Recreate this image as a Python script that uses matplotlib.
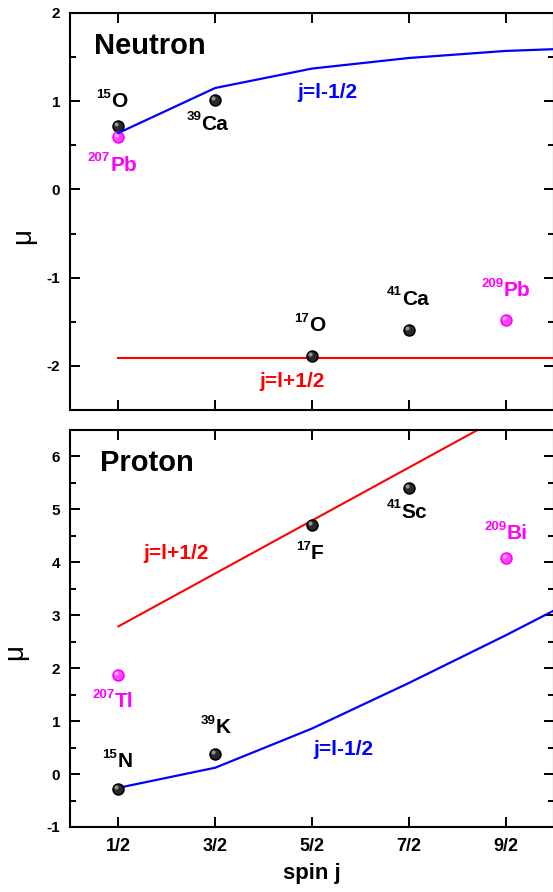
import matplotlib
matplotlib.use("Agg")
import matplotlib.pyplot as plt
from matplotlib.ticker import MultipleLocator, FixedLocator
from matplotlib.offsetbox import TextArea, HPacker, VPacker, DrawingArea, AnnotationBbox

plt.rcParams['font.family'] = ['Liberation Sans', 'DejaVu Sans']
plt.rcParams['axes.unicode_minus'] = False

# ---------------- data ----------------
spin_ticks = [0.5, 1.5, 2.5, 3.5, 4.5]
spin_labels = ['1/2', '3/2', '5/2', '7/2', '9/2']

# Schmidt lines
line_j = [0.5, 1.5, 2.5, 3.5, 4.5, 5.0]
neutron_lm = [0.64, 1.15, 1.37, 1.49, 1.57, 1.59]       # j=l-1/2
neutron_lp_j = [0.5, 5.0]
neutron_lp = [-1.91, -1.91]                               # j=l+1/2
proton_lp = [2.79, 3.79, 4.79, 5.79, 6.79, 7.29]          # j=l+1/2
proton_lm = [-0.26, 0.12, 0.86, 1.72, 2.62, 3.09]         # j=l-1/2

# experimental points
n_names = ['15', '39', '17', '41']
n_elems = ['O', 'Ca', 'O', 'Ca']
n_j = [0.5, 1.5, 2.5, 3.5]
n_mu = [0.72, 1.01, -1.89, -1.59]
n_hv_names = ['207', '209']
n_hv_elems = ['Pb', 'Pb']
n_hv_j = [0.5, 4.5]
n_hv_mu = [0.59, -1.48]

p_names = ['15', '39', '17', '41']
p_elems = ['N', 'K', 'F', 'Sc']
p_j = [0.5, 1.5, 2.5, 3.5]
p_mu = [-0.28, 0.38, 4.71, 5.41]
p_hv_names = ['207', '209']
p_hv_elems = ['Tl', 'Bi']
p_hv_j = [0.5, 4.5]
p_hv_mu = [1.87, 4.08]

# label offsets (pixels) for nuclei labels
n_off = [(-7, 26), (-8, -22), (-2, 32), (-1, 32)]
n_hv_off = [(-6, -26), (0, 31)]
p_off = [(-1, 29), (0, 28), (-2, -27), (-2, -23)]
p_hv_off = [(-5, -25), (0, 26)]

BLUE = '#0000FF'
RED = '#FF0000'
MAG = '#FF00FF'

W, H = 553, 892
fig = plt.figure(figsize=(W / 100, H / 100), dpi=100)

left = 70 / W
width = (554 - 70) / W
ax1 = fig.add_axes([left, 1 - 410 / H, width, (410 - 13) / H])
ax2 = fig.add_axes([left, 1 - 827 / H, width, (827 - 430) / H])


def balls(ax, xs, ys, color, hl, z=3):
    ax.plot(xs, ys, 'o', ms=9, color=color, mec=color, mew=0, zorder=z)
    ax.plot(xs, ys, 'o', ms=6.5, color=hl, mew=0, alpha=0.35, zorder=z + 0.1)
    ax.plot(xs, ys, 'o', ms=3, color='white', mew=0, alpha=0.5, zorder=z + 0.2,
            transform=ax.transData + matplotlib.transforms.ScaledTranslation(-2 / 100, 2 / 100, fig.dpi_scale_trans))


def labels(ax, names, elems, xs, ys, offs, color):
    for n, e, x, y, (dx, dy) in zip(names, elems, xs, ys, offs):
        sup = TextArea(n, textprops=dict(size=9.5, weight='bold', color=color))
        main = TextArea(e, textprops=dict(size=15, weight='bold', color=color))
        main_box = VPacker(children=[DrawingArea(0, 2.5), main], align='left', pad=0, sep=0)
        box = HPacker(children=[sup, main_box], align='top', pad=0, sep=0)
        ab = AnnotationBbox(box, (x, y), xybox=(dx, dy), xycoords='data',
                            boxcoords='offset pixels', frameon=False,
                            box_alignment=(0.5, 0.5), pad=0, zorder=6)
        ax.add_artist(ab)


def style(ax, ylim, show_x):
    ax.set_xlim(0, 5)
    ax.set_ylim(*ylim)
    ax.xaxis.set_major_locator(FixedLocator(spin_ticks))
    ax.set_xticklabels(spin_labels if show_x else [])
    ax.yaxis.set_major_locator(MultipleLocator(1))
    ax.yaxis.set_minor_locator(MultipleLocator(0.5))
    ax.tick_params(which='both', direction='in', top=True, right=True, width=1.4)
    ax.tick_params(which='major', length=7.5)
    ax.tick_params(which='minor', length=4.5)
    ax.tick_params(axis='y', labelsize=11, pad=7)
    ax.tick_params(axis='x', labelsize=13, pad=8)
    for lab in ax.get_xticklabels() + ax.get_yticklabels():
        lab.set_fontweight('bold')
    for s in ax.spines.values():
        s.set_linewidth(1.5)


# ---------- Neutron ----------
style(ax1, (-2.5, 2), False)
ax1.plot(neutron_lp_j, neutron_lp, color=RED, lw=1.5, zorder=2)
balls(ax1, n_j, n_mu, 'black', '#777777')
balls(ax1, n_hv_j, n_hv_mu, MAG, '#FFCCFF', z=3.5)
ax1.plot(line_j, neutron_lm, color=BLUE, lw=1.6, zorder=5)
labels(ax1, n_names, n_elems, n_j, n_mu, n_off, 'black')
labels(ax1, n_hv_names, n_hv_elems, n_hv_j, n_hv_mu, n_hv_off, MAG)
ax1.text(0.0497, 0.917, 'Neutron', transform=ax1.transAxes, fontsize=21,
         fontweight='bold', ha='left', va='center')
ax1.text(0.532, 0.801, 'j=l-1/2', transform=ax1.transAxes, fontsize=15,
         fontweight='bold', color=BLUE, ha='center', va='center')
ax1.text(0.458, 0.073, 'j=l+1/2', transform=ax1.transAxes, fontsize=15,
         fontweight='bold', color=RED, ha='center', va='center')
ax1.set_ylabel('μ', fontsize=20, fontweight='normal')
ax1.yaxis.set_label_coords(-0.070, 0.438)

# ---------- Proton ----------
style(ax2, (-1, 6.5), True)
ax2.plot(line_j, proton_lp, color=RED, lw=1.5, zorder=2)
ax2.plot(line_j, proton_lm, color=BLUE, lw=1.6, zorder=2)
balls(ax2, p_j, p_mu, 'black', '#777777')
balls(ax2, p_hv_j, p_hv_mu, MAG, '#FFCCFF', z=3.5)
labels(ax2, p_names, p_elems, p_j, p_mu, p_off, 'black')
labels(ax2, p_hv_names, p_hv_elems, p_hv_j, p_hv_mu, p_hv_off, MAG)
ax2.text(0.062, 0.917, 'Proton', transform=ax2.transAxes, fontsize=21,
         fontweight='bold', ha='left', va='center')
ax2.text(0.219, 0.688, 'j=l+1/2', transform=ax2.transAxes, fontsize=15,
         fontweight='bold', color=RED, ha='center', va='center')
ax2.text(0.565, 0.194, 'j=l-1/2', transform=ax2.transAxes, fontsize=15,
         fontweight='bold', color=BLUE, ha='center', va='center')
ax2.set_ylabel('μ', fontsize=20, fontweight='normal')
ax2.yaxis.set_label_coords(-0.087, 0.441)
ax2.set_xlabel('spin j', fontsize=16, fontweight='bold', labelpad=6)

fig.savefig('out.png', dpi=100)
